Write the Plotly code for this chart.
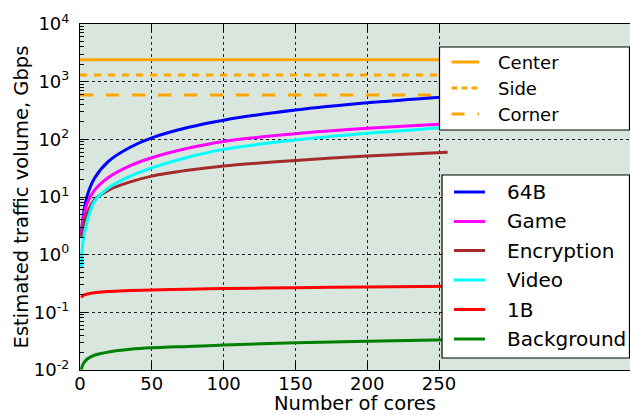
import plotly.graph_objects as go

# ---------------- data ----------------
cores = [1, 2, 5, 10, 20, 35, 50, 75, 100, 150, 200, 256]
traffic_64b = [2.2, 4.2, 10.5, 21, 42, 73, 106, 160, 215, 323, 431, 550]
traffic_game = [2.2, 3.8, 7.8, 13, 22, 35, 48, 70, 92, 125, 155, 187]
traffic_encryption = [1.95, 2.8, 5.2, 8.9, 13.2, 18.3, 23, 29, 34.5, 43, 51.5, 60]
traffic_video = [0.6, 1.6, 3.8, 8.3, 14.5, 23, 32, 49, 67, 97, 127, 162]
traffic_1b = [0.18, 0.195, 0.208, 0.218, 0.23, 0.238, 0.245, 0.252, 0.258, 0.267, 0.275, 0.283]
traffic_background = [0.0102, 0.0125, 0.0155, 0.018, 0.0205, 0.0228, 0.0242, 0.0256, 0.027, 0.0297, 0.0315, 0.0333]

capacity_names = ["Center", "Side", "Corner"]
capacity_values = [2400, 1300, 590]

series_names = ["64B", "Game", "Encryption", "Video", "1B", "Background"]
x_tick_values = [0, 50, 100, 150, 200, 250]
y_tick_values = [1e-2, 1e-1, 1e0, 1e1, 1e2, 1e3, 1e4]
y_tick_labels = ["10<sup>-2</sup>", "10<sup>-1</sup>", "10<sup>0</sup>", "10<sup>1</sup>",
                 "10<sup>2</sup>", "10<sup>3</sup>", "10<sup>4</sup>"]

# ---------------- styling ----------------
W, H = 630, 415
ML, MR, MT, MB = 80, 0, 24, 45
X_MAX = 383
FONT = "DejaVu Sans"
BG = "#d8e6de"

cap_styles = [("#FFA500", "solid"), ("#FFA500", "7px,7px"), ("#FFA500", "13px,13px")]
series_colors = ["#0000FF", "#FF00FF", "#A52A2A", "#00FFFF", "#FF0000", "#008000"]
series_values = [traffic_64b, traffic_game, traffic_encryption, traffic_video,
                 traffic_1b, traffic_background]

fig = go.Figure()

for name, val, (col, dash) in zip(capacity_names, capacity_values, cap_styles):
    fig.add_trace(go.Scatter(x=[0, X_MAX], y=[val, val], mode="lines", name=name,
                             line=dict(color=col, width=3, dash=dash), showlegend=False))

for name, vals, col in zip(series_names, series_values, series_colors):
    fig.add_trace(go.Scatter(x=cores, y=vals, mode="lines", name=name,
                             line=dict(color=col, width=3, shape="spline", smoothing=0.8),
                             showlegend=False))

pw = W - ML - MR
ph = H - MT - MB


def px(xp):
    return (xp - ML) / pw


def py(yp):
    return (H - MB - yp) / ph


shapes = []
annotations = []

# legend box 1 (capacity)
shapes.append(dict(type="rect", xref="paper", yref="paper", x0=px(439.5), x1=px(629.5),
                   y0=py(130), y1=py(47), fillcolor="white",
                   line=dict(color="black", width=1.2), layer="above"))
leg1_y = [62, 88, 114]
leg1_dash = ["solid", "6px,4px", "13px,13px"]
for name, yy, d in zip(capacity_names, leg1_y, leg1_dash):
    shapes.append(dict(type="line", xref="paper", yref="paper", x0=px(451.5), x1=px(479),
                       y0=py(yy), y1=py(yy), line=dict(color="#FFA500", width=3, dash=d),
                       layer="above"))
    annotations.append(dict(xref="paper", yref="paper", x=px(496), y=py(yy), text=name,
                            showarrow=False, xanchor="left", yanchor="middle",
                            font=dict(family=FONT, size=18, color="black")))

# legend box 2 (series)
shapes.append(dict(type="rect", xref="paper", yref="paper", x0=px(442), x1=px(629.5),
                   y0=py(358), y1=py(175), fillcolor="white",
                   line=dict(color="black", width=1.2), layer="above"))
leg2_y = [192, 221.5, 250.5, 280, 309.5, 339]
for name, yy, col in zip(series_names, leg2_y, series_colors):
    shapes.append(dict(type="line", xref="paper", yref="paper", x0=px(454), x1=px(485),
                       y0=py(yy), y1=py(yy), line=dict(color=col, width=3), layer="above"))
    annotations.append(dict(xref="paper", yref="paper", x=px(505), y=py(yy), text=name,
                            showarrow=False, xanchor="left", yanchor="middle",
                            font=dict(family=FONT, size=20, color="black")))

fig.update_layout(
    width=W, height=H,
    margin=dict(l=ML, r=MR, t=MT, b=MB, pad=0),
    paper_bgcolor="white", plot_bgcolor=BG,
    font=dict(family=FONT, size=18, color="black"),
    shapes=shapes, annotations=annotations,
    showlegend=False,
)

fig.update_xaxes(
    range=[0, X_MAX], tickvals=x_tick_values, ticks="inside", ticklen=8, tickwidth=1,
    tickcolor="black", showline=True, linecolor="black", linewidth=1.2, mirror="ticks",
    showgrid=True, gridcolor="#222222", griddash="dot", gridwidth=1, zeroline=False,
    tickfont=dict(family=FONT, size=18), ticklabelstandoff=-3,
    title=dict(text="Number of cores", font=dict(family=FONT, size=19.5), standoff=8),
)

fig.update_yaxes(
    type="log", range=[-2, 4], tickvals=y_tick_values, ticktext=y_tick_labels,
    ticks="inside", ticklen=8, tickwidth=1, tickcolor="black",
    showline=True, linecolor="black", linewidth=1.2, mirror=False,
    showgrid=True, gridcolor="#222222", griddash="dot", gridwidth=1, zeroline=False,
    minor=dict(ticks="inside", ticklen=4, tickcolor="black", dtick="D1", showgrid=False),
    tickfont=dict(family=FONT, size=18), ticklabelstandoff=6,
    title=dict(text="Estimated traffic volume, Gbps", font=dict(family=FONT, size=19.5), standoff=0),
)

fig.write_html(
    "out.html",
    config={"displayModeBar": False},
    post_script="document.body.style.margin='0';document.body.style.overflow='hidden';"
                "document.documentElement.style.overflow='hidden';",
)
